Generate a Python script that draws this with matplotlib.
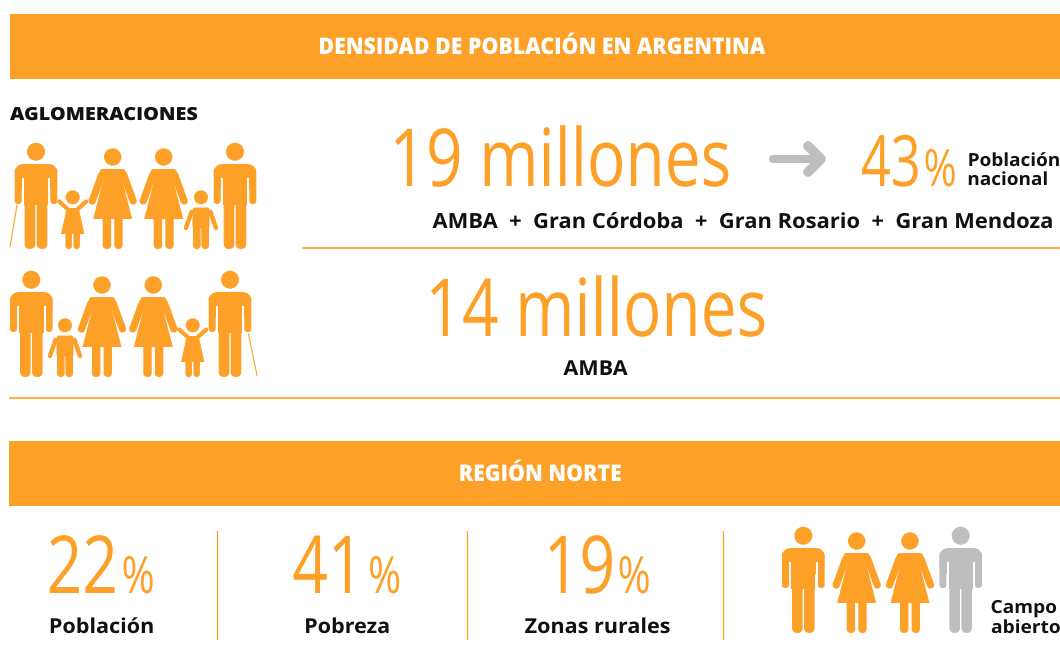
import matplotlib
matplotlib.use("Agg")
import matplotlib.pyplot as plt
from matplotlib.patches import Circle, FancyBboxPatch, Polygon, Rectangle
from matplotlib.patheffects import AbstractPathEffect
from matplotlib.transforms import Affine2D

ORANGE = "#FDA027"
GREY = "#BCBEC0"
INK = "#111111"

title_main = "DENSIDAD DE POBLACIÓN EN ARGENTINA"
title_north = "REGIÓN NORTE"
subtitle = "AGLOMERACIONES"
big_labels = ["19 millones", "14 millones"]
share_value = "43"
share_label = ["Población", "nacional"]
metros = "AMBA  +  Gran Córdoba  +  Gran Rosario  +  Gran Mendoza"
metro_14 = "AMBA"
stat_values = ["22", "41", "19"]
stat_labels = ["Población", "Pobreza", "Zonas rurales"]
rural_label = ["Campo", "abierto"]
rural_people = ["man", "woman", "woman", "man_grey"]
family_1 = ["man_cane_l", "girl", "woman", "woman", "boy", "man"]
family_2 = ["man", "boy", "woman", "woman", "girl", "man_cane_r"]


class Squeeze(AbstractPathEffect):
	# Estira el texto en horizontal (no hay fuente condensada instalada)
	def __init__(self, sx, ha):
		super().__init__()
		self.sx = sx
		self.ha = ha

	def draw_path(self, renderer, gc, tpath, affine, rgbFace=None):
		ext = tpath.get_extents(affine)
		pivot = {"left": ext.x0, "right": ext.x1, "center": (ext.x0 + ext.x1) / 2}[self.ha]
		squeeze = Affine2D().translate(-pivot, 0).scale(self.sx, 1).translate(pivot, 0)
		renderer.draw_path(gc, tpath, affine + squeeze, rgbFace)


fig = plt.figure(figsize=(10.6, 6.48), dpi=100)
ax = fig.add_axes([0, 0, 1, 1])
ax.set_xlim(0, 1060)
ax.set_ylim(648, 0)
ax.axis("off")


def label(x, y, s, size, weight=700, sx=1.0, color=INK, ha="center"):
	t = ax.text(x, y, s, fontsize=size, fontweight=weight, color=color, family="Open Sans",
		ha=ha, va="baseline")
	if sx != 1.0:
		t.set_path_effects([Squeeze(sx, ha)])
	return t


def capsule(x, y0, y1, w, color):
	# Barra vertical con los extremos redondeados
	r = w / 2
	ax.add_patch(FancyBboxPatch((x, y0), 0, y1 - y0, boxstyle=f"round,pad={r},rounding_size={r}",
		fc=color, lw=0))


def limb(x0, y0, x1, y1, w, color):
	# Brazo inclinado: linea gruesa con punta redonda (w en px)
	ax.plot([x0, x1], [y0, y1], color=color, lw=w * 0.72, solid_capstyle="round")


def person(kind, cx, base):
	# Unidades: px de la figura, medidos desde el centro y desde los pies
	color = GREY if kind.endswith("grey") else ORANGE
	if kind.startswith("man"):
		ax.add_patch(Circle((cx, base - 97.3), 9, fc=color, lw=0))
		ax.add_patch(FancyBboxPatch((cx - 12, base - 76), 24, 8, boxstyle="round,pad=9,rounding_size=9",
			fc=color, lw=0))
		ax.add_patch(Rectangle((cx - 12.2, base - 70), 24.4, 26, fc=color, lw=0))
		capsule(cx - 17.8, base - 78, base - 48.5, 7, color)
		capsule(cx + 17.8, base - 78, base - 48.5, 7, color)
		for sign in [-1, 1]:
			ax.add_patch(Rectangle((cx + sign * 13.2 - 1, base - 71), 2, 32, fc="white", lw=0, zorder=1.5))
		capsule(cx - 6, base - 50, base - 5.3, 10.6, color)
		capsule(cx + 6, base - 50, base - 5.3, 10.6, color)
		if kind.endswith("cane_l"):
			ax.plot([cx - 19, cx - 26], [base - 44, base - 2], color=color, lw=0.8)
		if kind.endswith("cane_r"):
			ax.plot([cx + 18.5, cx + 27], [base - 43, base - 1.5], color=color, lw=0.8)
	elif kind == "woman":
		ax.add_patch(Circle((cx, base - 92), 8.7, fc=color, lw=0))
		ax.add_patch(FancyBboxPatch((cx - 10, base - 77), 20, 6, boxstyle="round,pad=3,rounding_size=3",
			fc=color, lw=0))
		limb(cx - 11, base - 74, cx - 20.5, base - 48, 7.3, color)
		limb(cx + 11, base - 74, cx + 20.5, base - 48, 7.3, color)
		ax.add_patch(Polygon([(cx - 9.8, base - 72), (cx + 9.8, base - 72), (cx + 9.8, base - 68),
			(cx + 19.5, base - 30), (cx - 19.5, base - 30), (cx - 9.8, base - 68)], fc=color, lw=0))
		capsule(cx - 5.8, base - 30, base - 4.2, 8.4, color)
		capsule(cx + 5.8, base - 30, base - 4.2, 8.4, color)
	elif kind == "boy":
		ax.add_patch(Circle((cx, base - 51.7), 7, fc=color, lw=0))
		ax.add_patch(FancyBboxPatch((cx - 6, base - 39), 12, 16, boxstyle="round,pad=2.5,rounding_size=2.5",
			fc=color, lw=0))
		limb(cx - 9.5, base - 37, cx - 15, base - 21, 4.4, color)
		limb(cx + 9.5, base - 37, cx + 15, base - 21, 4.4, color)
		capsule(cx - 4.2, base - 22, base - 3.8, 7.6, color)
		capsule(cx + 4.2, base - 22, base - 3.8, 7.6, color)
	elif kind == "girl":
		ax.add_patch(Circle((cx, base - 51.7), 7, fc=color, lw=0))
		limb(cx - 4, base - 39, cx - 13.5, base - 47.5, 4.2, color)
		limb(cx + 4, base - 39, cx + 13.5, base - 47.5, 4.2, color)
		ax.add_patch(Polygon([(cx - 6, base - 41), (cx + 6, base - 41), (cx + 11.7, base - 15),
			(cx - 11.7, base - 15)], fc=color, lw=0))
		capsule(cx - 4, base - 15, base - 3.2, 6.4, color)
		capsule(cx + 4, base - 15, base - 3.2, 6.4, color)


# Bandas
ax.add_patch(Rectangle((10, 14), 1050, 65, fc=ORANGE, lw=0))
ax.add_patch(Rectangle((9, 441), 1051, 65, fc=ORANGE, lw=0))
label(541, 54, title_main, 16.5, 800, 0.93, "white")
label(540, 481, title_north, 16.5, 800, 0.93, "white")
label(103.5, 120, subtitle, 13, 800, 1.10)

# Familias
for kind, cx in zip(family_1, [36, 72.7, 112.7, 163.7, 201, 235]):
	person(kind, cx, 249)
for kind, cx in zip(family_2, [31.3, 65, 102, 153.3, 192.7, 230]):
	person(kind, cx, 377)
for kind, cx in zip(rural_people, [803.3, 856.7, 910, 960.7]):
	person(kind, cx, 633)

# Cifras grandes
label(560, 186, big_labels[0], 57.6, 400, 0.80, ORANGE)
label(596, 336, big_labels[1], 57.6, 400, 0.80, ORANGE)
label(922, 186, share_value, 51, 400, 0.74, ORANGE, ha="right")
label(923, 186, "%", 37, 400, 0.78, ORANGE, ha="left")

# Flecha gris
ax.plot([773, 820], [159, 159], color=GREY, lw=5.8, solid_capstyle="round")
ax.plot([808, 821, 808], [146, 159, 172], color=GREY, lw=7, solid_capstyle="round",
	solid_joinstyle="round")

label(1013.5, 166, share_label[0], 13, 700, 1.05)
label(1007.5, 185, share_label[1], 13, 700, 1.05)
label(743, 228, metros, 15, 700, 1.053)
label(595.5, 375, metro_14, 14.8, 700, 1.05)

# Separadores
ax.plot([303, 1060], [248, 248], color=ORANGE, lw=1.2)
ax.plot([10, 1060], [398, 398], color=ORANGE, lw=1.2)
for x in [217, 467, 723]:
	ax.plot([x, x], [531, 639], color=ORANGE, lw=0.9)

# Region norte
for value, name, x_num, x_pct, cx_name in zip(stat_values, stat_labels,
		[119, 367.5, 616], [121, 367.5, 617], [101.5, 347, 597.5]):
	label(x_num, 593, value, 57.6, 400, 0.78, ORANGE, ha="right")
	label(x_pct, 593, "%", 37, 400, 0.78, ORANGE, ha="left")
	label(cx_name, 633, name, 14.8, 700, 1.05)

label(1023.5, 613, rural_label[0], 13, 700, 1.06)
label(1025.5, 633, rural_label[1], 13, 700, 1.06)

fig.savefig("out.png", dpi=100)
